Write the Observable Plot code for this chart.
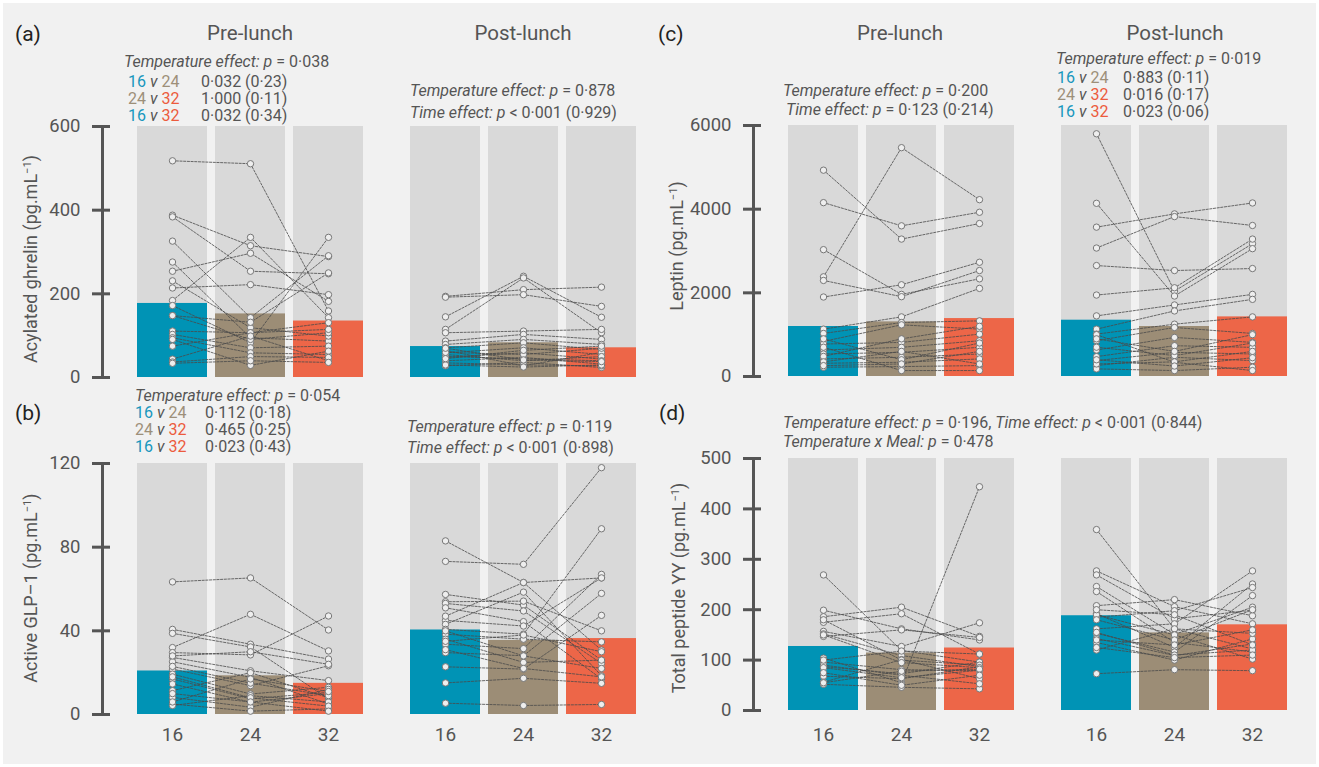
<!DOCTYPE html>
<html><head><meta charset="utf-8">
<script src="https://cdn.jsdelivr.net/npm/d3@7"></script>
<script src="https://cdn.jsdelivr.net/npm/@observablehq/plot@0.6"></script>
<style>
body{margin:0;background:#fff;font-family:Roboto,"Liberation Sans",sans-serif;}
#root{position:relative;width:1319px;height:767px;overflow:hidden;}
#bg{position:absolute;left:3px;top:3px;width:1313px;height:761px;background:#f1f1f1;}
.pl{position:absolute;}
.t{position:absolute;white-space:nowrap;transform:translateY(-50%);line-height:1;color:#555;font-size:16px;}
.ttl{position:absolute;white-space:nowrap;transform:translate(-50%,-50%);line-height:1;color:#555;font-size:20.5px;}
.lab{position:absolute;white-space:nowrap;transform:translateY(-50%);line-height:1;color:#222;font-size:21px;}
.yt{position:absolute;white-space:nowrap;transform:translate(-50%,-50%) rotate(-90deg);line-height:1;color:#555;font-size:18px;}
.yt sup{font-size:0.62em;vertical-align:0.55em;}
.c16{color:#1797bd}.c24{color:#9d8f79}.c32{color:#ec5b3d}
</style></head>
<body><div id="root"><div id="bg"></div></div>
<script>
const temps = [16, 24, 32];
const meals = ["Pre-lunch", "Post-lunch"];
const tempColors = ["#0093b5", "#9c8d76", "#ed6648"];

// (a) Acylated ghrelin, per participant [16, 24, 32]
const ghrelinPre = [[518,511,159],[388,315,289],[384,254,248],[326,143,291],[276,95,87],[254,297,182],[231,119,99],[214,222,198],[184,335,143],[172,83,335],[148,91,107],[148,132,250],[111,107,115],[103,71,75],[95,59,55],[91,29,63],[75,107,131],[44,99,40],[37,50,48],[34,40,36]];
const ghrelinPost = [[194,210,216],[192,198,170],[145,242,144],[115,238,107],[107,111,115],[87,103,91],[79,91,79],[71,83,67],[59,71,55],[48,59,44],[40,48,32],[28,36,24],[65,28,60],[55,40,50],[35,30,28],[50,45,40],[60,55,70],[30,25,30],[45,65,75],[70,42,38]];
const ghrelinPreMean = [177, 152, 135];
const ghrelinPostMean = [74, 83, 71];

// (b) Active GLP-1
const glpPre = [[63.4,65.3,40.4],[40.7,33.6,26.5],[38.8,32.3,7.5],[32,47.9,30.4],[29.6,28.5,47.1],[27.3,20.9,16.2],[25.2,17.8,5],[21.7,13.8,23.3],[19.3,9.8,13],[17,7.5,10.6],[14.6,5.9,10],[11.4,20,8],[8.2,3.5,12],[5,1.6,2.7],[4.3,9,6],[23,15,9],[18,8,4],[28,30,24],[10,6,1.6],[6,17,11]];
const glpPost = [[83,63.1,30.8],[73.2,71.8,118],[57.4,52.3,26],[53.9,54.2,40],[53.1,49.5,24.4],[51,44.4,17],[45,42.3,65.3],[43.1,58.5,18.5],[40.7,38.4,88.8],[38.4,36,34.7],[33.6,31.5,67],[29.6,28.1,57.9],[22.8,21.7,47.4],[15.1,17.3,14.9],[5.4,4.3,4.8],[36,24.9,26],[47,63.1,65.3],[31,22,18],[40,28,22],[35,38,30]];
const glpPreMean = [20.8, 18.5, 14.9];
const glpPostMean = [40.4, 35.4, 36.3];

// (c) Leptin
const leptinPre = [[4932,3285,3657],[4156,3602,3926],[3032,1963,2335],[2383,5470,4227],[2296,1908,2533],[1900,2193,2731],[1132,1425,2106],[1029,1290,1330],[839,1235,1132],[776,815,1013],[633,697,855],[538,578,697],[420,459,538],[317,340,420],[222,237,261],[700,142,142],[480,900,1200],[350,600,300],[900,400,800],[260,300,600]];
const leptinPost = [[5802,2042,3174],[4140,1924,3056],[3570,3887,4148],[3071,3823,3610],[2652,2533,2581],[1947,2121,3285],[1449,1710,1963],[1132,1567,1844],[1013,1251,1425],[855,1172,1029],[633,934,815],[475,736,697],[380,578,538],[261,459,380],[182,142,222],[1000,340,142],[700,500,800],[300,350,600],[900,600,1000],[400,250,450]];
const leptinPreMean = [1195, 1306, 1385];
const leptinPostMean = [1346, 1195, 1425];

// (d) Total peptide YY
const pyyPre = [[269,119,96],[199,162,140],[186,205,147],[175,192,112],[157,127,174],[152,109,87],[147,160,145],[104,55,444],[96,81,79],[87,73,96],[68,63,87],[56,101,63],[52,46,43],[90,70,53],[100,118,112],[85,65,80],[180,100,90],[150,95,85],[55,78,82],[75,50,70]];
const pyyPost = [[359,162,122],[277,206,172],[269,182,199],[246,151,205],[236,135,116],[208,220,188],[192,125,251],[185,198,244],[162,172,277],[153,116,228],[143,109,132],[135,100,142],[120,162,153],[73,81,79],[190,150,102],[180,140,200],[155,110,120],[140,130,160],[200,190,130],[125,105,110]];
const pyyPreMean = [127, 114, 124];
const pyyPostMean = [188, 154, 170];

const ghrelinTicks = [0, 200, 400, 600];
const glpTicks = [0, 40, 80, 120];
const leptinTicks = [0, 2000, 4000, 6000];
const pyyTicks = [0, 100, 200, 300, 400, 500];

const ghrelinPairs = [["16","24","0·032 (0·23)"],["24","32","1·000 (0·11)"],["16","32","0·032 (0·34)"]];
const glpPairs = [["16","24","0·112 (0·18)"],["24","32","0·465 (0·25)"],["16","32","0·023 (0·43)"]];
const leptinPairs = [["16","24","0·883 (0·11)"],["24","32","0·016 (0·17)"],["16","32","0·023 (0·06)"]];

const root = document.getElementById("root");

function drawPanel(o) {
  const rows = [];
  [o.pre, o.post].forEach((arr, m) => arr.forEach((trip, id) => trip.forEach((v, i) =>
    rows.push({meal: meals[m], temp: temps[i], id: m * 100 + id, value: v}))));
  const means = [];
  [o.preMean, o.postMean].forEach((arr, m) => arr.forEach((v, i) =>
    means.push({meal: meals[m], temp: temps[i], value: v})));
  const marks = [
    Plot.barY(means, {fx: "meal", x: "temp", y: () => o.yMax, fill: "#d9d9d9"}),
    Plot.barY(means, {fx: "meal", x: "temp", y: "value", fill: "temp"}),
    Plot.line(rows, {fx: "meal", x: "temp", y: "value", z: "id", stroke: "#4a4a4a", strokeWidth: 0.9, strokeDasharray: "2.2,1.5", strokeOpacity: 0.9}),
    Plot.dot(rows, {fx: "meal", x: "temp", y: "value", r: 3.2, fill: "#eeeeee", stroke: "#777", strokeWidth: 1}),
    Plot.ruleX([{meal: "Pre-lunch", temp: 16}], {fx: "meal", x: "temp", y1: () => 0, y2: () => o.yMax, dx: -70, stroke: "#555", strokeWidth: 3}),
    Plot.axisY(o.ticks, {anchor: "left", tickSize: 18, tickPadding: 12, dx: -26, color: "#555", strokeWidth: 3, fontSize: 18.5, label: null, tickFormat: d3.format("d")})
  ];
  if (o.showX) marks.push(Plot.axisX({anchor: "bottom", tickSize: 0, tickPadding: o.xPad, fontSize: 19, color: "#555", label: null}));
  const chart = Plot.plot({
    width: 660, height: o.height, marginTop: o.marginTop, marginBottom: o.marginBottom,
    marginLeft: 135, marginRight: 23,
    style: {background: "transparent", fontFamily: "Roboto, 'Liberation Sans', sans-serif", overflow: "visible"},
    fx: {domain: meals, paddingInner: 0.165, paddingOuter: 0, axis: null, label: null},
    x: {type: "band", domain: temps, paddingInner: 0.1, paddingOuter: 0, axis: null, label: null},
    y: {domain: [0, o.yMax], axis: null, label: null},
    color: {domain: temps, range: tempColors},
    marks
  });
  const wrap = document.createElement("div");
  wrap.className = "pl";
  wrap.style.left = o.left + "px";
  wrap.style.top = o.top + "px";
  wrap.appendChild(chart);
  root.appendChild(wrap);
}

drawPanel({left: 0, top: 0, height: 390, marginTop: 126, marginBottom: 13, yMax: 600, ticks: ghrelinTicks,
  pre: ghrelinPre, post: ghrelinPost, preMean: ghrelinPreMean, postMean: ghrelinPostMean, showX: false});
drawPanel({left: 0, top: 390, height: 364, marginTop: 73, marginBottom: 40, yMax: 120, ticks: glpTicks,
  pre: glpPre, post: glpPost, preMean: glpPreMean, postMean: glpPostMean, showX: true, xPad: 13});
drawPanel({left: 651, top: 0, height: 390, marginTop: 125, marginBottom: 14, yMax: 6000, ticks: leptinTicks,
  pre: leptinPre, post: leptinPost, preMean: leptinPreMean, postMean: leptinPostMean, showX: false});
drawPanel({left: 651, top: 390, height: 364, marginTop: 68, marginBottom: 44, yMax: 500, ticks: pyyTicks,
  pre: pyyPre, post: pyyPost, preMean: pyyPreMean, postMean: pyyPostMean, showX: true, xPad: 17});

function add(cls, x, y, html) {
  const d = document.createElement("div");
  d.className = cls;
  d.style.left = x + "px";
  d.style.top = y + "px";
  d.innerHTML = html;
  root.appendChild(d);
}
function pairs(list, x1, x2, ys) {
  list.forEach(([a, b, v], i) => {
    add("t", x1, ys[i], `<span class="c${a}">${a}</span> <i>v</i> <span class="c${b}">${b}</span>`);
    add("t", x2, ys[i], v);
  });
}

// panel letters and titles
add("lab", 15, 34, "(a)");
add("lab", 15, 413, "(b)");
add("lab", 658, 34, "(c)");
add("lab", 659, 413, "(d)");
add("ttl", 250, 33, "Pre-lunch");
add("ttl", 523, 33, "Post-lunch");
add("ttl", 900, 33, "Pre-lunch");
add("ttl", 1175, 33, "Post-lunch");

// y-axis titles
add("yt", 31, 259, "Acylated ghrelin (pg.mL<sup>−1</sup>)");
add("yt", 31, 588, "Active GLP–1 (pg.mL<sup>−1</sup>)");
add("yt", 677, 246, "Leptin (pg.mL<sup>−1</sup>)");
add("yt", 679, 588, "Total peptide YY (pg.mL<sup>−1</sup>)");

// annotations (a)
add("t", 124, 62, "<i>Temperature effect: p</i> = 0·038");
pairs(ghrelinPairs, 128, 201, [82, 99, 116]);
add("t", 410, 91, "<i>Temperature effect: p</i> = 0·878");
add("t", 410, 113, "<i>Time effect: p</i> &lt; 0·001 (0·929)");
// (b)
add("t", 135, 396, "<i>Temperature effect: p</i> = 0·054");
pairs(glpPairs, 135, 205, [413, 430, 447]);
add("t", 407, 427, "<i>Temperature effect: p</i> = 0·119");
add("t", 407, 448, "<i>Time effect: p</i> &lt; 0·001 (0·898)");
// (c)
add("t", 783, 91, "<i>Temperature effect: p</i> = 0·200");
add("t", 786, 110, "<i>Time effect: p</i> = 0·123 (0·214)");
add("t", 1056, 59, "<i>Temperature effect: p</i> = 0·019");
pairs(leptinPairs, 1057, 1123, [78, 95, 112]);
// (d)
add("t", 783, 423, "<i>Temperature effect: p</i> = 0·196, <i>Time effect: p</i> &lt; 0·001 (0·844)");
add("t", 783, 442, "<i>Temperature x Meal: p</i> = 0·478");
</script>
</body></html>
